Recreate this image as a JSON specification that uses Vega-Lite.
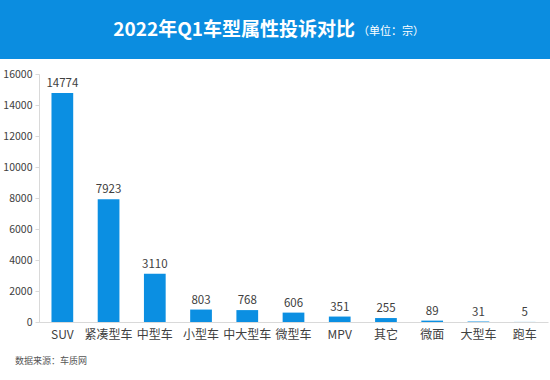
{
  "$schema": "https://vega.github.io/schema/vega-lite/v6.json",
  "background": "white",
  "padding": 0,
  "spacing": 10,
  "config": {"view": {"stroke": null}, "font": "Noto Sans CJK SC"},
  "vconcat": [
    {
      "width": 550,
      "height": 59,
      "view": {"fill": "#0b8de0", "stroke": null},
      "data": {"values": [{"main": "2022年Q1车型属性投诉对比", "unit": "（单位：宗）"}]},
      "layer": [
        {
          "mark": {"type": "text", "align": "right", "baseline": "middle", "dx": 80, "fontSize": 19, "fontWeight": "bold", "color": "white"},
          "encoding": {"text": {"field": "main"}}
        },
        {
          "mark": {"type": "text", "align": "left", "baseline": "middle", "dx": 83, "dy": 2, "fontSize": 11, "color": "white"},
          "encoding": {"text": {"field": "unit"}}
        }
      ]
    },
    {
      "width": 550,
      "height": 248,
      "title": {"text": "数据来源：车质网", "orient": "bottom", "anchor": "start", "frame": "bounds", "fontSize": 9, "fontWeight": "normal", "color": "#555555", "dx": 15, "offset": 17},
      "data": {"values": [
        {"type": "SUV", "count": 14774},
        {"type": "紧凑型车", "count": 7923},
        {"type": "中型车", "count": 3110},
        {"type": "小型车", "count": 803},
        {"type": "中大型车", "count": 768},
        {"type": "微型车", "count": 606},
        {"type": "MPV", "count": 351},
        {"type": "其它", "count": 255},
        {"type": "微面", "count": 89},
        {"type": "大型车", "count": 31},
        {"type": "跑车", "count": 5}
      ]},
      "encoding": {
        "x": {
          "field": "type", "type": "nominal", "sort": null,
          "scale": {"range": [39, 548], "paddingInner": 0.53, "paddingOuter": 0.27},
          "axis": {"title": null, "labelAngle": 0, "ticks": false, "domainColor": "#d9d9d9", "labelFontSize": 12, "labelColor": "#404040", "labelPadding": 7, "grid": false}
        },
        "y": {
          "field": "count", "type": "quantitative",
          "scale": {"domain": [0, 16000], "nice": false},
          "axis": {"title": null, "offset": -39, "format": "d", "values": [0, 2000, 4000, 6000, 8000, 10000, 12000, 14000, 16000], "grid": false, "domainColor": "#d9d9d9", "tickColor": "#d9d9d9", "tickSize": 4, "labelPadding": 3, "labelFontSize": 10.5, "labelColor": "#404040", "minExtent": 0}
        }
      },
      "layer": [
        {"mark": {"type": "bar", "color": "#0b8fe2"}},
        {
          "mark": {"type": "text", "baseline": "bottom", "dy": -4, "fontSize": 11.5, "color": "#404040"},
          "encoding": {"text": {"field": "count", "type": "quantitative", "format": "d"}}
        }
      ]
    }
  ]
}
